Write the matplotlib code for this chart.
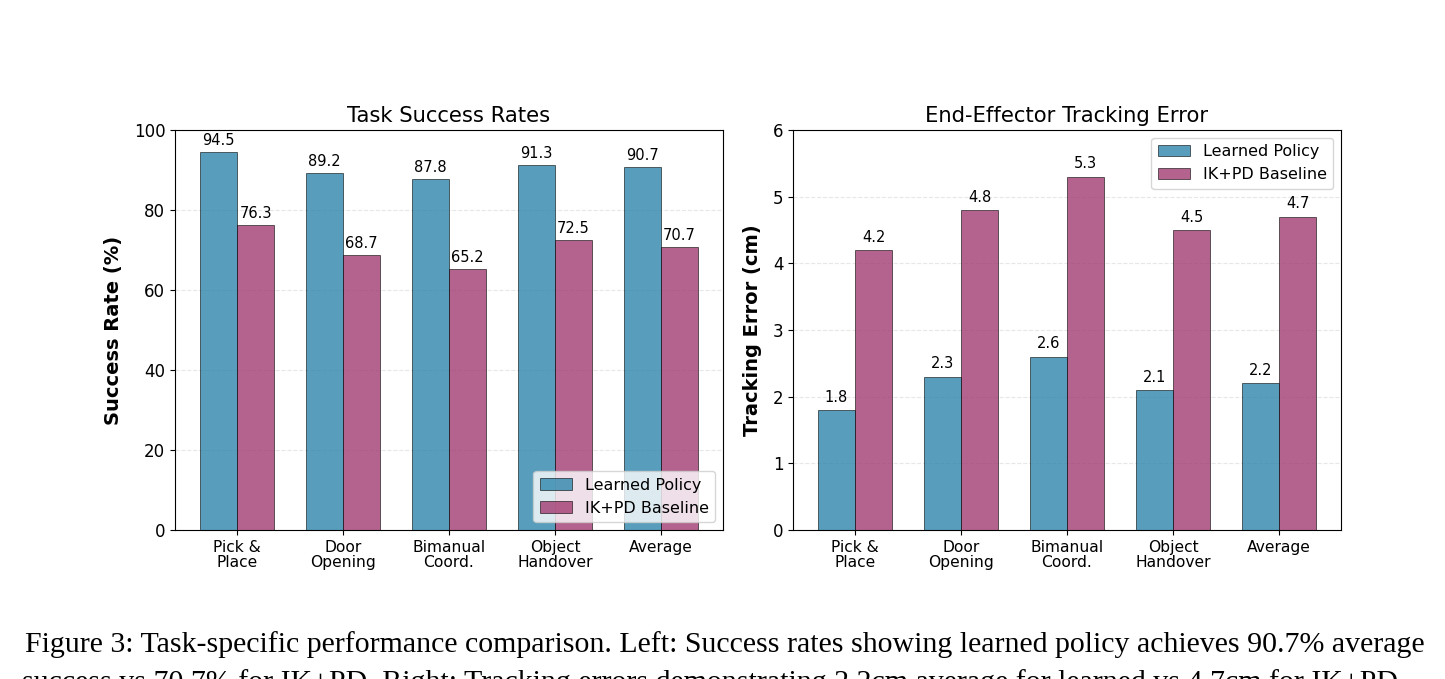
import numpy as np
import matplotlib
matplotlib.use('Agg')
import matplotlib.pyplot as plt

# Task categories
tasks = ['Pick &\nPlace', 'Door\nOpening', 'Bimanual\nCoord.', 'Object\nHandover', 'Average']

# Success rates (%)
success_learned = [94.5, 89.2, 87.8, 91.3, 90.7]
success_ikpd = [76.3, 68.7, 65.2, 72.5, 70.7]

# Tracking errors (cm)
error_learned = [1.8, 2.3, 2.6, 2.1, 2.2]
error_ikpd = [4.2, 4.8, 5.3, 4.5, 4.7]

caption_line1 = ("Figure 3: Task-specific performance comparison. Left: Success rates showing "
                 "learned policy achieves 90.7% average")
caption_line2 = ("success vs 70.7% for IK+PD. Right: Tracking errors demonstrating 2.2cm "
                 "average for learned vs 4.7cm for IK+PD")

COLOR_LEARNED = '#2E86AB'
COLOR_IKPD = '#A23B72'


def draw_panel(ax, learned, ikpd, title, ylabel, ylim, label_offset, legend_loc):
    x = np.arange(len(tasks))
    width = 0.35
    b1 = ax.bar(x - width / 2, learned, width, label='Learned Policy',
                color=COLOR_LEARNED, alpha=0.8, edgecolor='black', linewidth=0.5)
    b2 = ax.bar(x + width / 2, ikpd, width, label='IK+PD Baseline',
                color=COLOR_IKPD, alpha=0.8, edgecolor='black', linewidth=0.5)

    # value labels above bars
    for bars in (b1, b2):
        for bar in bars:
            h = bar.get_height()
            ax.text(bar.get_x() + bar.get_width() / 2, h + label_offset, f'{h:.1f}',
                    ha='center', va='bottom', fontsize=10.5)

    ax.set_title(title, fontsize=15.2, pad=6)
    ax.set_ylabel(ylabel, fontsize=14, fontweight='bold', labelpad=8)
    ax.set_xticks(x)
    ax.set_xticklabels(tasks, fontsize=11.2, linespacing=1.05)
    ax.tick_params(axis='y', labelsize=12)
    ax.set_ylim(*ylim)
    ax.grid(True, axis='y', alpha=0.3, linestyle='--')
    ax.set_axisbelow(True)
    ax.legend(loc=legend_loc, fontsize=11.5)


fig = plt.figure(figsize=(14.45, 6.79), dpi=100)
ax1 = fig.add_axes([0.1211, 0.2194, 0.3792, 0.5891])
ax2 = fig.add_axes([0.5488, 0.2194, 0.3792, 0.5891])

draw_panel(ax1, success_learned, success_ikpd, 'Task Success Rates', 'Success Rate (%)',
           (0, 100), 1, 'lower right')
draw_panel(ax2, error_learned, error_ikpd, 'End-Effector Tracking Error', 'Tracking Error (cm)',
           (0, 6), 0.08, 'upper right')

# figure caption (second line runs off the bottom edge, as in the page crop)
fig.text(25 / 1445, 1 - 652 / 679, caption_line1, ha='left', va='baseline',
         fontsize=21.5, family='Liberation Serif')
fig.text(22 / 1445, 1 - 690 / 679, caption_line2, ha='left', va='baseline',
         fontsize=21.5, family='Liberation Serif')

fig.savefig('out.png', dpi=100)
